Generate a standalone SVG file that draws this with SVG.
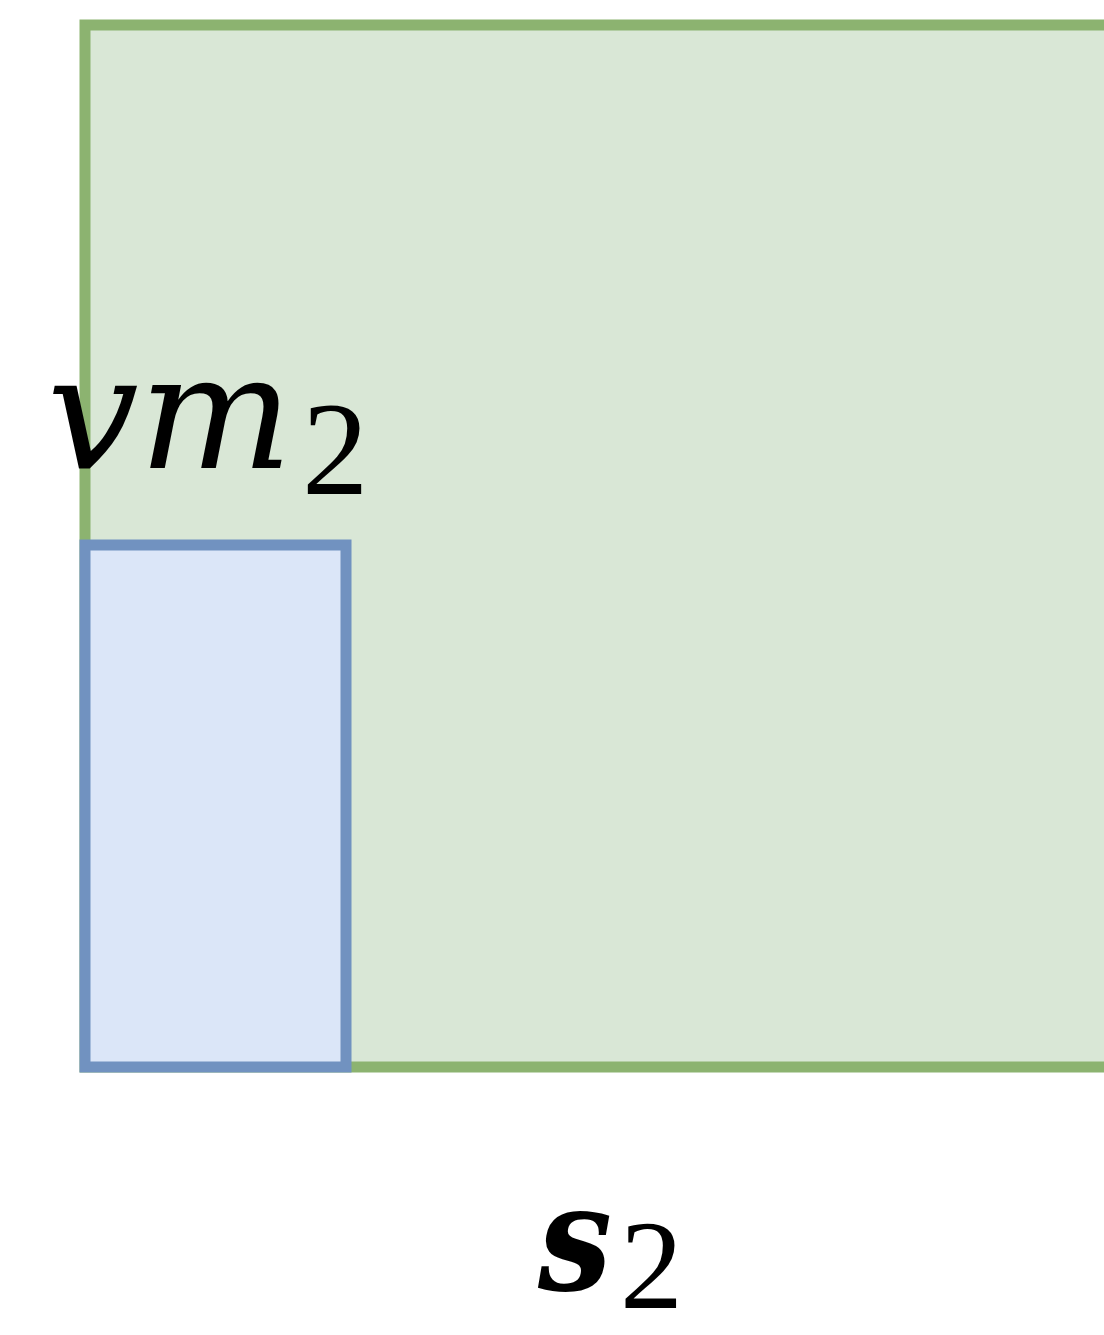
<svg xmlns="http://www.w3.org/2000/svg" width="1104" height="1335" viewBox="0 0 1104 1335">
<style>
.var{font-family:"DejaVu Serif","Liberation Serif",serif;font-style:italic;fill:#000}
.sub{font-family:"Liberation Serif","DejaVu Serif",serif;font-style:normal;fill:#000}
</style>
<rect width="1104" height="1335" fill="#ffffff"/>
<g id="outer">
<rect x="85" y="25" width="1100" height="1042" fill="#d9e7d6" stroke="#8cb370" stroke-width="11"/>
</g>
<g id="inner">
<rect x="85" y="545" width="261" height="522" fill="#dbe6f8" stroke="#7192c0" stroke-width="11"/>
</g>
<g id="labels">
<text class="var" x="47" y="468" font-size="160" textLength="246" lengthAdjust="spacingAndGlyphs">vm</text>
<text class="sub" x="302" y="494" font-size="133">2</text>
<text class="var" x="538" y="1290" font-size="148" font-weight="bold" textLength="74" lengthAdjust="spacingAndGlyphs">s</text>
<text class="sub" x="620" y="1308" font-size="126">2</text>
</g>
</svg>
